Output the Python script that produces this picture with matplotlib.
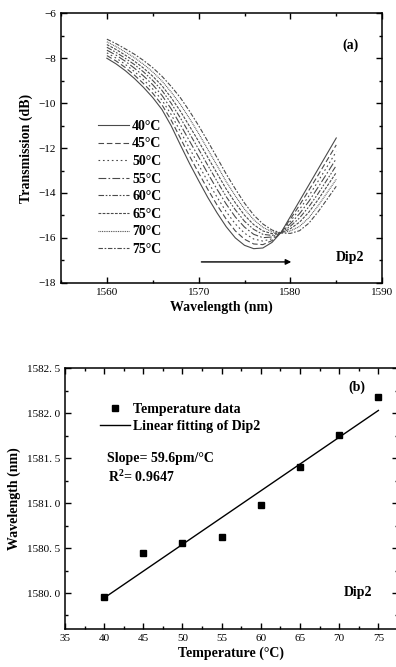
import numpy as np
import matplotlib
matplotlib.use("Agg")
import matplotlib.pyplot as plt
from matplotlib.ticker import MultipleLocator, FuncFormatter

plt.rcParams['font.family'] = ['Liberation Serif', 'DejaVu Serif']
plt.rcParams['mathtext.fontset'] = 'custom'
plt.rcParams['mathtext.rm'] = 'Liberation Serif'
plt.rcParams['mathtext.bf'] = 'Liberation Serif:bold'

# ---- panel (a): transmission spectra (1 nm steps) ----
wavelength = list(range(1560, 1586))
temps = ['40°C', '45°C', '50°C', '55°C', '60°C', '65°C', '70°C', '75°C']
t40 = [-8.00, -8.25, -8.55, -8.90, -9.30, -9.75, -10.28, -11.00, -11.85, -12.68,
       -13.45, -14.20, -14.88, -15.50, -16.00, -16.33, -16.48, -16.45, -16.20, -15.75,
       -15.05, -14.35, -13.65, -12.95, -12.25, -11.55]
t45 = [-7.88, -8.12, -8.41, -8.75, -9.13, -9.56, -10.07, -10.75, -11.55, -12.35,
       -13.10, -13.84, -14.53, -15.16, -15.69, -16.06, -16.27, -16.30, -16.12, -15.75,
       -15.16, -14.54, -13.89, -13.22, -12.54, -11.86]
t50 = [-7.76, -7.99, -8.27, -8.59, -8.96, -9.37, -9.86, -10.50, -11.25, -12.01,
       -12.75, -13.49, -14.18, -14.83, -15.38, -15.79, -16.05, -16.14, -16.04, -15.76,
       -15.26, -14.73, -14.14, -13.49, -12.83, -12.16]
t55 = [-7.64, -7.86, -8.13, -8.44, -8.79, -9.18, -9.65, -10.25, -10.95, -11.68,
       -12.40, -13.13, -13.83, -14.49, -15.07, -15.52, -15.84, -15.99, -15.96, -15.76,
       -15.37, -14.92, -14.38, -13.76, -13.12, -12.47]
t60 = [-7.51, -7.74, -8.00, -8.28, -8.61, -8.99, -9.43, -10.00, -10.65, -11.35,
       -12.05, -12.77, -13.47, -14.16, -14.75, -15.26, -15.62, -15.84, -15.89, -15.77,
       -15.48, -15.11, -14.62, -14.04, -13.41, -12.78]
t65 = [-7.39, -7.61, -7.86, -8.13, -8.44, -8.80, -9.22, -9.75, -10.35, -11.02,
       -11.70, -12.41, -13.12, -13.82, -14.44, -14.99, -15.41, -15.69, -15.81, -15.77,
       -15.59, -15.30, -14.86, -14.31, -13.70, -13.09]
t70 = [-7.27, -7.48, -7.72, -7.97, -8.27, -8.61, -9.01, -9.50, -10.05, -10.68,
       -11.35, -12.06, -12.77, -13.49, -14.13, -14.72, -15.19, -15.53, -15.73, -15.78,
       -15.69, -15.49, -15.11, -14.58, -13.99, -13.39]
t75 = [-7.15, -7.35, -7.58, -7.82, -8.10, -8.42, -8.80, -9.25, -9.75, -10.35,
       -11.00, -11.70, -12.42, -13.15, -13.82, -14.45, -14.98, -15.38, -15.65, -15.78,
       -15.80, -15.68, -15.35, -14.85, -14.28, -13.70]
spectra = [t40, t45, t50, t55, t60, t65, t70, t75]

# ---- panel (b): dip wavelength vs temperature ----
temperature = [40, 45, 50, 55, 60, 65, 70, 75]
dip_wl = [1579.96, 1580.44, 1580.56, 1580.62, 1580.98, 1581.40, 1581.76, 1582.18]

styles = ['-', (0, (5, 2.5)), (0, (1.5, 2.5)), (0, (7, 2, 1.5, 2)),
          (0, (5, 1.5, 1.5, 1.5, 1.5, 1.5)), (0, (2.5, 1.2)), (0, (0.8, 0.8)),
          (0, (4, 1.5, 1.5, 1.5))]

fig = plt.figure(figsize=(3.96, 6.67), dpi=100)

def style_axes(ax):
    for s in ax.spines.values():
        s.set_linewidth(1.1)
    ax.tick_params(which='both', direction='in', top=True, right=True,
                   labelsize=8, width=1.0)
    ax.tick_params(which='major', length=4)
    ax.tick_params(which='minor', length=2)

# panel (a)
ax1 = fig.add_axes([0.154, 0.576, 0.811, 0.404])
for vals, lab, ls in zip(spectra, temps, styles):
    ax1.plot(wavelength, vals, color='#4a4a4a', lw=0.8, ls=ls, label=lab)
ax1.set_xlim(1555, 1590)
ax1.set_ylim(-18, -6)
ax1.xaxis.set_major_locator(MultipleLocator(10))
ax1.xaxis.set_minor_locator(MultipleLocator(5))
ax1.yaxis.set_major_locator(MultipleLocator(2))
ax1.yaxis.set_minor_locator(MultipleLocator(1))
ax1.yaxis.set_major_formatter(FuncFormatter(lambda v, p: f'{v:.0f}'.replace('-', '\u2212')))
style_axes(ax1)
ax1.set_xlabel('Wavelength (nm)', fontsize=10, fontweight='bold', labelpad=3)
ax1.set_ylabel('Transmission (dB)', fontsize=10, fontweight='bold', labelpad=4)
leg = ax1.legend(loc='upper left', bbox_to_anchor=(0.077, 0.651), frameon=False,
                 handlelength=2.2, handletextpad=0.25, labelspacing=0.33,
                 prop={'weight': 'bold', 'size': 10})
ax1.annotate('', xy=(1580.4, -17.07), xytext=(1570, -17.07),
             arrowprops=dict(arrowstyle='-|>', color='black', lw=1.0,
                             mutation_scale=8))
ax1.text(0.9, 0.881, '(a)', transform=ax1.transAxes, fontsize=10,
         fontweight='bold', ha='center', va='center')
ax1.text(0.9, 0.093, 'Dip2', transform=ax1.transAxes, fontsize=10,
         fontweight='bold', ha='center', va='center')

# panel (b)
ax2 = fig.add_axes([0.164, 0.057, 0.841, 0.391])
coef = np.polyfit(temperature, dip_wl, 1)
fit_y = np.polyval(coef, temperature)
ax2.plot(temperature, dip_wl, ls='none', marker='s', ms=4, color='black',
         label='Temperature data')
ax2.plot(temperature, fit_y, color='black', lw=1.0, label='Linear fitting of Dip2')
ax2.set_xlim(35, 77.5)
ax2.set_ylim(1579.6, 1582.5)
ax2.xaxis.set_major_locator(MultipleLocator(5))
ax2.xaxis.set_minor_locator(MultipleLocator(2.5))
ax2.yaxis.set_major_locator(MultipleLocator(0.5))
ax2.yaxis.set_minor_locator(MultipleLocator(0.25))
ax2.yaxis.set_major_formatter(FuncFormatter(lambda v, p: f'{v:.1f}'.replace('.', '. ')))
style_axes(ax2)
ax2.set_xlabel('Temperature (°C)', fontsize=10, fontweight='bold', labelpad=3)
ax2.set_ylabel('Wavelength (nm)', fontsize=10, fontweight='bold', labelpad=4)
ax2.legend(loc='upper left', bbox_to_anchor=(0.068, 0.916), frameon=False,
           handlelength=2.16, handletextpad=0.2, labelspacing=0.32,
           prop={'weight': 'bold', 'size': 10})
ax2.text(0.127, 0.655, 'Slope= 59.6pm/°C', transform=ax2.transAxes, fontsize=10,
         fontweight='bold', ha='left', va='center')
ax2.text(0.129, 0.583, r'R$^{\mathbf{2}}$= 0.9647', transform=ax2.transAxes,
         fontsize=10, fontweight='bold', ha='left', va='center')
ax2.text(0.877, 0.926, '(b)', transform=ax2.transAxes, fontsize=10,
         fontweight='bold', ha='center', va='center')
ax2.text(0.88, 0.138, 'Dip2', transform=ax2.transAxes, fontsize=10,
         fontweight='bold', ha='center', va='center')

fig.savefig('out.png', dpi=100)
